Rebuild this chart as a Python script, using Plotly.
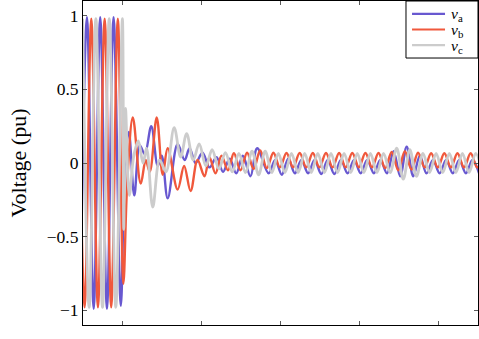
import plotly.graph_objects as go

# time in ms, voltage in pu (extrema)
t_a = [-3.4, 5.0, 13.5, 21.8, 30.3, 38.7, 47.9,
       53.6, 58.0, 64.9, 71.9, 78.2, 86.4, 94.6, 99.6, 107.2,
       119.8, 128.6, 134.9, 142.5, 151.3, 160.1, 169.0, 177.3, 185.6, 194.0, 202.3, 212.0, 220.5,
       235.0, 243.3, 251.6, 259.9, 268.2, 276.5, 284.9, 293.2, 301.6, 309.8, 318.2, 326.5, 334.9,
       343.2, 351.5, 359.8, 368.2, 376.4, 384.8, 393.1, 401.5, 409.7, 418.1, 426.4, 434.8, 443.0,
       451.4, 459.7, 468.1, 476.3, 484.7, 493.0, 501.4]
v_a = [-0.99, 0.99, -0.99, 0.99, -0.99, 0.99, -0.97,
       0.05, 0.21, -0.22, 0.12, 0.06, 0.25, -0.02, 0.05, -0.24,
       0.13, 0.02, 0.10, 0.0, 0.07, -0.03, 0.04, -0.06, 0.03, -0.07, 0.05, -0.09, 0.10,
       -0.07, 0.02, -0.08, 0.03, -0.07, 0.02, -0.07, 0.02, -0.075, 0.02, -0.075, 0.02, -0.07,
       0.02, -0.07, 0.02, -0.07, 0.02, -0.07, 0.08, -0.09, 0.11, -0.09, 0.05, -0.07, 0.02,
       -0.07, 0.02, -0.07, 0.02, -0.07, 0.02, -0.07]

t_b = [-6.3, 2.0, 10.5, 18.9, 27.4, 35.7, 44.1,
       51.1, 56.1, 63.1, 73.1, 79.4, 84.5, 93.3, 100.9, 107.2, 119.8, 128.0, 136.2, 145.0,
       153.8, 160.1, 167.7, 175.3, 183.5,
       191.0, 199.4, 207.7, 216.0, 224.3, 232.7, 241.0, 249.3, 257.6, 265.9, 274.3, 282.6,
       290.9, 299.2, 307.6, 315.9, 324.2, 332.5, 340.9, 349.2, 357.5, 365.8, 374.1, 382.5,
       390.8, 399.1, 407.4, 415.8, 424.1, 432.4, 440.7, 449.1, 457.4, 465.7, 474.0, 482.3,
       490.7, 499.0, 507.3]
v_b = [0.98, -0.98, 0.98, -0.98, 0.98, -0.98, 0.98,
       -0.82, -0.12, 0.31, -0.14, 0.02, -0.06, 0.31, -0.08, 0.10, -0.18, -0.02, -0.19, 0.02,
       -0.09, 0.04, -0.07, 0.05, -0.05,
       0.066, -0.05, 0.07, -0.04, 0.085, -0.035, 0.07, -0.03, 0.068, -0.03, 0.068, -0.03,
       0.068, -0.03, 0.068, -0.03, 0.068, -0.03, 0.068, -0.03, 0.068, -0.03, 0.068, -0.035,
       0.075, -0.05, 0.08, -0.045, 0.07, -0.03, 0.066, -0.03, 0.066, -0.03, 0.066, -0.03,
       0.066, -0.03, 0.066]

t_c = [-0.5, 7.8, 16.3, 24.7, 33.2, 41.5, 49.9,
       51.6, 53.8, 58.6, 64.3, 70.0, 76.0, 80.5, 88.3, 97.0, 105.0, 115.4, 123.6, 131.2, 139.5,
       147.1, 155.5, 163.5, 172.0, 180.3,
       189.0, 197.3, 205.7, 214.0, 222.3, 230.6, 239.0, 247.3, 255.6, 263.9, 272.3, 280.6,
       288.9, 297.2, 305.6, 313.9, 322.2, 330.5, 338.9, 347.2, 355.5, 363.8, 372.1, 380.4,
       388.8, 397.1, 405.4, 413.7, 422.1, 430.4, 438.7, 447.0, 455.4, 463.7, 472.0, 480.3,
       488.7, 497.0, 505.3]
v_c = [0.98, -0.98, 0.98, -0.98, 0.98, -0.98, 0.98,
       -0.45, 0.37, -0.22, 0.05, 0.15, 0.0, 0.10, -0.30, 0.02, -0.06, 0.24, 0.04, 0.20, 0.02,
       0.13, -0.02, 0.09, -0.04, 0.07,
       -0.06, 0.065, -0.065, 0.08, -0.08, 0.08, -0.065, 0.065, -0.065, 0.065, -0.065, 0.065,
       -0.065, 0.065, -0.065, 0.065, -0.065, 0.065, -0.065, 0.065, -0.065, 0.065, -0.065, 0.065,
       -0.065, 0.10, -0.11, 0.09, -0.09, 0.065, -0.065, 0.065, -0.065, 0.065, -0.065, 0.065,
       -0.065, 0.065, -0.065]

assert len(t_a) == len(v_a) and len(t_b) == len(v_b) and len(t_c) == len(v_c)

names = ["<i>v</i><sub>a</sub>", "<i>v</i><sub>b</sub>", "<i>v</i><sub>c</sub>"]
colors = ["rgb(104,88,208)", "rgb(240,88,60)", "rgb(204,204,204)"]
widths = [2.4, 2.4, 2.8]
y_ticks = [-1, -0.5, 0, 0.5, 1]
y_labels = ["\u22121", "\u22120.5", "0", "0.5", "1"]
x_ticks = [50, 150, 250, 350, 450]

fig = go.Figure()
for t, v, n, c, w in zip([t_a, t_b, t_c], [v_a, v_b, v_c], names, colors, widths):
    fig.add_trace(go.Scatter(x=t, y=v, mode="lines", name=n, showlegend=False,
                             line=dict(color=c, width=w, shape="spline", smoothing=1)))

font = "Liberation Serif"

# legend box (drawn as shapes + text so the row spacing matches the original)
fig.add_shape(type="rect", xref="paper", yref="paper", x0=0.8177, x1=1.0, y0=0.824, y1=1.0,
              fillcolor="white", line=dict(color="black", width=1), layer="above")
leg_y = [0.960, 0.912, 0.864]
for n, c, y in zip(names, colors, leg_y):
    fig.add_shape(type="line", xref="paper", yref="paper", x0=0.833, x1=0.9165, y0=y, y1=y,
                  line=dict(color=c, width=2.2), layer="above")
    fig.add_annotation(xref="paper", yref="paper", x=0.930, y=y - 0.003, text=n,
                       showarrow=False, xanchor="left", yanchor="middle",
                       font=dict(family=font, size=15.5, color="black"),
                       borderpad=0)

fig.update_layout(
    width=479, height=339,
    margin=dict(l=83, r=1, t=1, b=14),
    paper_bgcolor="white", plot_bgcolor="white",
    font=dict(family=font, size=17.5, color="black"),
    showlegend=False,
)
fig.update_xaxes(range=[0, 500], tickvals=x_ticks, showticklabels=False,
                 ticks="inside", ticklen=4, tickcolor="rgb(90,90,90)",
                 showline=True, linecolor="black", linewidth=1, mirror="ticks",
                 showgrid=False, zeroline=False)
fig.update_yaxes(range=[-1.1, 1.1], tickvals=y_ticks, ticktext=y_labels,
                 ticks="inside", ticklen=4, tickcolor="rgb(90,90,90)",
                 showline=True, linecolor="black", linewidth=1, mirror="ticks",
                 showgrid=False, zeroline=False, automargin=False,
                 title=dict(text="Voltage (pu)", standoff=14, font=dict(family=font, size=22)))

fig.write_html("out.html", config={"displayModeBar": False},
               post_script="document.body.style.margin='0';document.body.style.padding='0';")
